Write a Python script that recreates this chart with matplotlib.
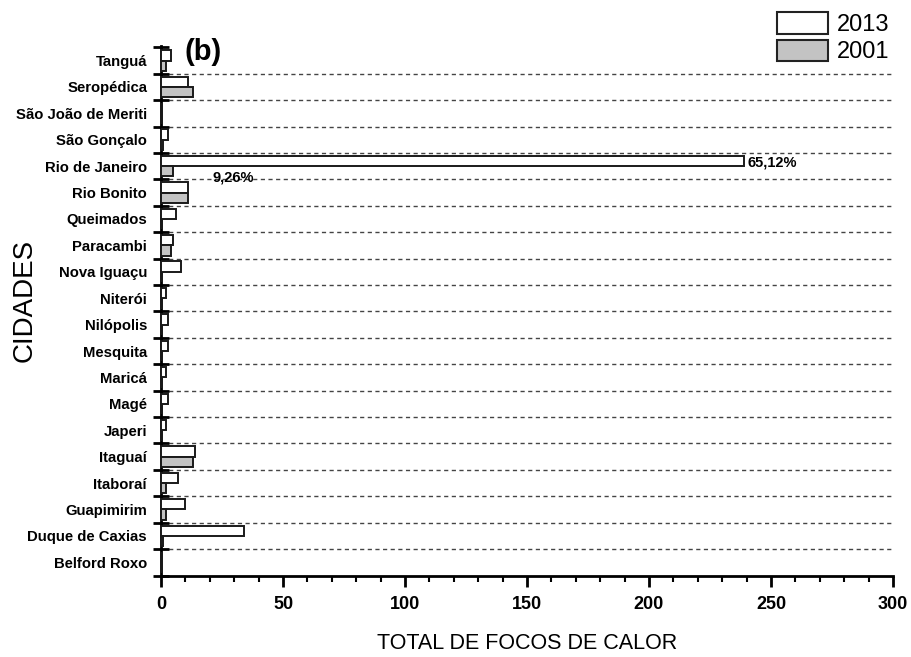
import numpy as np
import matplotlib.pyplot as plt
from matplotlib.patches import Patch
from matplotlib.ticker import MultipleLocator

cidades = ['Belford Roxo', 'Duque de Caxias', 'Guapimirim', 'Itaboraí', 'Itaguaí',
           'Japeri', 'Magé', 'Maricá', 'Mesquita', 'Nilópolis', 'Niterói',
           'Nova Iguaçu', 'Paracambi', 'Queimados', 'Rio Bonito', 'Rio de Janeiro',
           'São Gonçalo', 'São João de Meriti', 'Seropédica', 'Tanguá']
focos_2013 = [0, 34, 10, 7, 14, 2, 3, 2, 3, 3, 2, 8, 5, 6, 11, 239, 3, 0, 11, 4]
focos_2001 = [0, 1, 2, 2, 13, 0, 0, 0, 0, 0, 0, 0, 4, 0, 11, 5, 1, 0, 13, 2]

plt.rcParams['font.family'] = ['Liberation Sans', 'DejaVu Sans']

fig = plt.figure(figsize=(9.12, 6.57), dpi=100)
ax = fig.add_axes([161 / 912, 1 - 575.5 / 657, 732 / 912, (575.5 - 46) / 657])

y = np.arange(len(cidades))
h = 0.39
ax.barh(y + h / 2, focos_2013, height=h, color='white', edgecolor='#1a1a1a', linewidth=1.4, zorder=3)
ax.barh(y - h / 2, focos_2001, height=h, color='#c3c3c3', edgecolor='#1a1a1a', linewidth=1.4, zorder=3)

# linhas tracejadas entre cidades
for b in np.arange(0.5, len(cidades) - 1, 1.0):
    ax.plot([0, 300], [b, b], color='#444444', linestyle=(0, (3, 2.5)), linewidth=1.0, zorder=1)

ax.set_xlim(0, 300)
ax.set_ylim(-0.5, len(cidades) - 0.45)
ax.spines['top'].set_visible(False)
ax.spines['right'].set_visible(False)
ax.spines['left'].set_linewidth(2)
ax.spines['bottom'].set_linewidth(2)

ax.set_yticks(y)
ax.set_yticklabels(cidades, fontweight='bold', fontsize=10.7)
ax.tick_params(axis='y', which='major', length=0, pad=10)
ax.set_yticks(np.arange(-0.5, len(cidades), 1.0), minor=True)
ax.tick_params(axis='y', which='minor', direction='inout', length=11, width=2)

ax.xaxis.set_major_locator(MultipleLocator(50))
ax.xaxis.set_minor_locator(MultipleLocator(10))
ax.tick_params(axis='x', which='major', direction='out', length=8, width=2, pad=7)
ax.tick_params(axis='x', which='minor', direction='out', length=4, width=1.5)
for lab in ax.get_xticklabels():
    lab.set_fontweight('bold')
    lab.set_fontsize(13)

ax.set_xlabel('TOTAL DE FOCOS DE CALOR', fontsize=15.5, labelpad=14)
ax.set_ylabel('CIDADES', fontsize=20)
ax.yaxis.set_label_coords(-0.168, 0.52)

ax.text(240.5, 15.13, '65,12%', fontsize=10.5, fontweight='bold', va='center', ha='left')
ax.text(21, 14.57, '9,26%', fontsize=10.5, fontweight='bold', va='center', ha='left')
fig.text(203 / 912, 1 - 52 / 657, '(b)', fontsize=21, fontweight='bold', ha='center', va='center')

handles = [Patch(facecolor='white', edgecolor='#222222', linewidth=1.5, label='2013'),
           Patch(facecolor='#c3c3c3', edgecolor='#222222', linewidth=1.5, label='2001')]
fig.legend(handles=handles, loc='upper left', bbox_to_anchor=(768 / 912, 1 - 3 / 657),
           frameon=False, fontsize=17, handlelength=2.15, handleheight=1.0,
           labelspacing=0.15, handletextpad=0.35, borderaxespad=0)

fig.savefig('out.png', dpi=100)
